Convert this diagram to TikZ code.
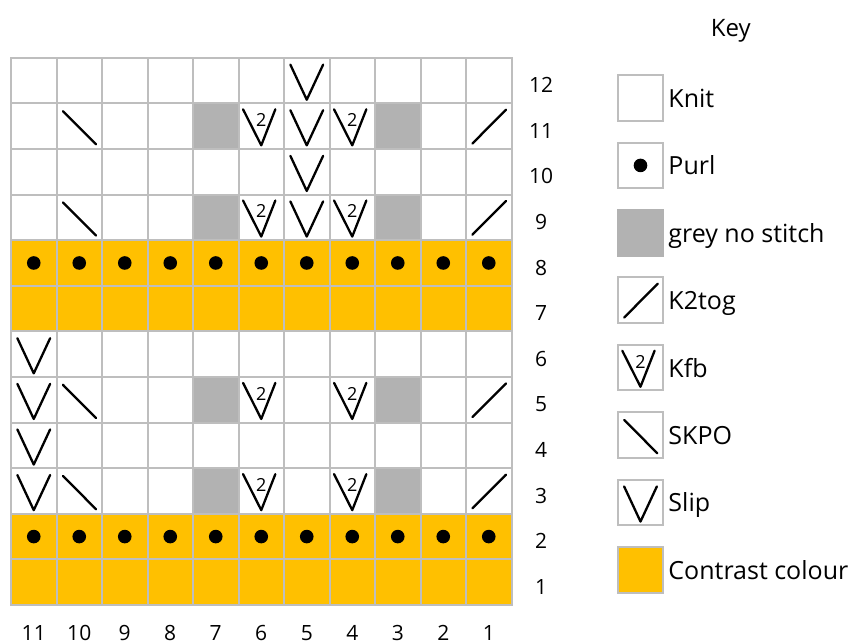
\documentclass[tikz,border=0pt]{standalone}
\usepackage{fontspec}
\setmainfont{Open Sans}
\usetikzlibrary{positioning}

\definecolor{contrast}{RGB}{255,192,0}
\definecolor{nostitch}{RGB}{178,178,178}
\definecolor{gridline}{RGB}{190,190,190}

\tikzset{
    cell/.style={draw=gridline, line width=2pt, minimum width=45.5pt, minimum height=45.6pt, inner sep=0pt, outer sep=0pt},
    sym/.style={line width=2.3pt, line cap=round, line join=round},
    num/.style={font=\fontsize{21}{21}\selectfont},
    keytext/.style={font=\fontsize{25}{25}\selectfont, text height=0.714em, text depth=0pt, inner sep=3pt, yshift=-6pt}
}

\begin{document}
\begin{tikzpicture}[x=45.5pt, y=45.6pt]

    \useasboundingbox (-11pt,-39pt) rectangle (843pt,605pt);

    % simboli dei punti, #1 = nome della casella
    \def\slip#1{\draw[sym, shift={(#1.center)}] (-0.36,0.35) -- (0,-0.42) -- (0.36,0.35);}
    \def\kfb#1{%
        \draw[sym, shift={(#1.center)}] (-0.40,0.37) -- (0,-0.42) -- (0.31,0.37);%
        \node[font=\fontsize{18}{18}\selectfont, inner sep=0pt] at ([yshift=6pt]#1.center) {2};%
    }
    \def\ktog#1{\draw[sym, shift={(#1.center)}] (-0.36,-0.38) -- (0.38,0.36);}
    \def\skpo#1{\draw[sym, shift={(#1.center)}] (-0.36,0.33) -- (0.37,-0.40);}
    \def\purl#1{\fill[shift={(#1.center)}] (0,0) circle (6.8pt);}

    % -- riempimenti --
    \foreach \r in {1,2,7,8}
        \fill[contrast] (0,\r-1) rectangle (11,\r);
    \foreach \r in {3,5,9,11}
        \foreach \c in {7,3}
            \fill[nostitch] (11-\c,\r-1) rectangle (12-\c,\r);

    % -- griglia: colonna 11 a sinistra, riga 1 in basso --
    \foreach \c in {1,...,11}
        \foreach \r in {1,...,12}
            \node[cell] (c\c-\r) at (11.5-\c,\r-0.5) {};

    \foreach \r in {1,...,12}
        \node[num] (row\r) at (11.65,\r-0.6) {\r};
    \foreach \c in {1,...,11}
        \node[num] (col\c) at (11.5-\c,-0.61) {\c};

    % -- simboli nella griglia --
    \foreach \r in {2,8}
        \foreach \c in {1,...,11}
            \purl{c\c-\r};

    \foreach \r in {9,11} {
        \skpo{c10-\r}
        \kfb{c6-\r}
        \slip{c5-\r}
        \kfb{c4-\r}
        \ktog{c1-\r}
    }
    \foreach \r in {10,12}
        \slip{c5-\r};

    \foreach \r in {3,5} {
        \slip{c11-\r}
        \skpo{c10-\r}
        \kfb{c6-\r}
        \kfb{c4-\r}
        \ktog{c1-\r}
    }
    \foreach \r in {4,6}
        \slip{c11-\r};

    % -- legenda --
    \node[font=\fontsize{24}{24}\selectfont] (key) at (15.82,12.6) {Key};

    \foreach \n/\k/\t in {knit/0/Knit, purl/1/Purl, grey/2/grey no stitch, ktog/3/K2tog,
                          kfb/4/Kfb, skpo/5/SKPO, slip/6/Slip, contrast/7/Contrast colour} {
        \node[cell, fill=white] (key-\n) at (13.835,11.118-1.478*\k) {};
        \node[keytext, right=2pt of key-\n] (lbl-\n) {\t};
    }
    \node[cell, fill=nostitch, draw=nostitch] at (key-grey) {};
    \node[cell, fill=contrast] at (key-contrast) {};

    \purl{key-purl}
    \ktog{key-ktog}
    \kfb{key-kfb}
    \skpo{key-skpo}
    \slip{key-slip}
\end{tikzpicture}
\end{document}
